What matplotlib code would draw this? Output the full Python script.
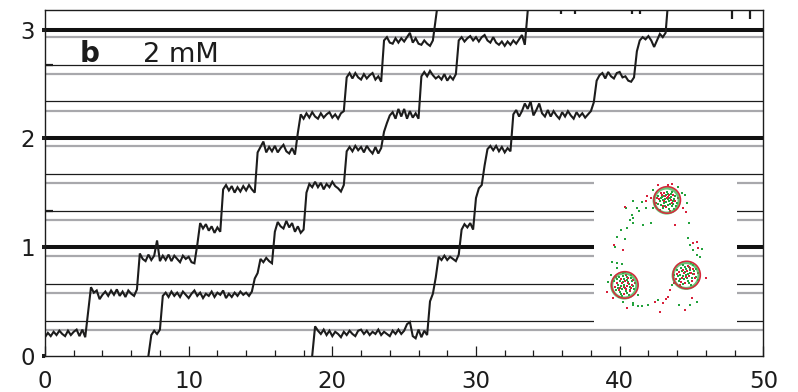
import numpy as np
import matplotlib
matplotlib.use("Agg")
import matplotlib.pyplot as plt
from matplotlib.patches import Circle, Rectangle

# Reference levels drawn across the trace panel
major_levels = [1, 2, 3]
minor_levels = [0.32, 0.66, 1.33, 1.67, 2.34, 2.67]
shadow_levels = [0.24, 0.58, 0.92, 1.25, 1.59, 1.93, 2.25, 2.59, 2.93]

x_ticks = [0, 10, 20, 30, 40, 50]
y_ticks = [0, 1, 2, 3]

# Stepping traces, sampled every 0.2 time units
dt = 0.2
start_a, start_b, start_c = 0.0, 7.2, 18.6

trace_a = [
    0.17, 0.21, 0.18, 0.22, 0.19, 0.23, 0.20, 0.18, 0.23, 0.19,
    0.22, 0.24, 0.18, 0.24, 0.17, 0.40, 0.63,
    0.58, 0.60, 0.52, 0.56, 0.59, 0.55, 0.60, 0.56, 0.61, 0.55,
    0.59, 0.54, 0.60, 0.57, 0.55, 0.61,
    0.94, 0.89, 0.87, 0.93, 0.88, 0.92, 1.06, 0.87, 0.92, 0.88,
    0.93, 0.87, 0.92, 0.89, 0.86, 0.92, 0.89, 0.91, 0.86, 0.85,
    1.02, 1.22, 1.17, 1.21, 1.15, 1.19, 1.13, 1.18, 1.14,
    1.53, 1.57, 1.52, 1.56, 1.50, 1.55, 1.51, 1.56, 1.52, 1.57, 1.53, 1.50,
    1.87, 1.92, 1.97, 1.87, 1.92, 1.88, 1.93, 1.87, 1.91, 1.94, 1.88, 1.86, 1.91, 1.85,
    2.05, 2.22, 2.18, 2.23, 2.19, 2.24, 2.20, 2.18, 2.23, 2.19,
    2.22, 2.24, 2.19, 2.22, 2.18, 2.23, 2.25,
    2.56, 2.60, 2.55, 2.60, 2.56, 2.54, 2.59, 2.55, 2.58, 2.60, 2.54, 2.57, 2.52,
    2.90, 2.93, 2.88, 2.87, 2.92, 2.88, 2.92, 2.89, 2.93, 2.97,
    2.88, 2.92, 2.87, 2.86, 2.90, 2.87, 2.85, 2.90, 3.10, 3.30,
]

trace_b = [
    0.00, 0.19, 0.23, 0.20, 0.24,
    0.55, 0.58, 0.54, 0.59, 0.55, 0.58, 0.54, 0.59, 0.56, 0.53,
    0.57, 0.60, 0.55, 0.58, 0.53, 0.57, 0.55, 0.59, 0.54, 0.58,
    0.56, 0.60, 0.53, 0.57, 0.54, 0.58, 0.55, 0.59, 0.56, 0.58, 0.55, 0.59,
    0.71, 0.76, 0.89, 0.86, 0.90, 0.87, 0.85,
    1.14, 1.23, 1.19, 1.17, 1.24, 1.18, 1.22, 1.14, 1.19, 1.13, 1.16,
    1.50, 1.58, 1.55, 1.60, 1.55, 1.59, 1.53, 1.58, 1.55, 1.60, 1.56, 1.54, 1.51, 1.57,
    1.88, 1.92, 1.88, 1.93, 1.89, 1.92, 1.87, 1.93, 1.89, 1.86, 1.92, 1.86, 1.91,
    2.06, 2.14, 2.21, 2.24, 2.18, 2.27, 2.20, 2.27, 2.18, 2.25, 2.19, 2.23, 2.18,
    2.57, 2.61, 2.57, 2.62, 2.58, 2.55, 2.57, 2.54, 2.59, 2.53, 2.57, 2.54, 2.59,
    2.90, 2.93, 2.89, 2.92, 2.94, 2.90, 2.93, 2.89, 2.93, 2.95, 2.90, 2.88,
    2.93, 2.88, 2.86, 2.89, 2.85, 2.89, 2.86, 2.90, 2.87, 2.91, 2.95, 2.86,
    3.17, 3.35,
]

trace_c = [
    0.00, 0.27,
    0.23, 0.20, 0.24, 0.19, 0.23, 0.18, 0.22, 0.20, 0.17, 0.22,
    0.19, 0.23, 0.20, 0.18, 0.23, 0.24, 0.20, 0.23, 0.19, 0.22,
    0.20, 0.24, 0.19, 0.22, 0.20, 0.18, 0.23, 0.20, 0.24, 0.20,
    0.23, 0.29, 0.31, 0.18, 0.16, 0.24, 0.17, 0.23, 0.19,
    0.50, 0.57, 0.72,
    0.91, 0.88, 0.92, 0.88, 0.91, 0.89, 0.87, 0.93,
    1.16, 1.21, 1.18, 1.22, 1.16,
    1.45, 1.54, 1.57, 1.75,
    1.90, 1.93, 1.89, 1.93, 1.88, 1.92, 1.87, 1.91, 1.88,
    2.22, 2.26, 2.20, 2.25, 2.32, 2.27, 2.34, 2.21, 2.26, 2.32,
    2.23, 2.20, 2.26, 2.20, 2.25, 2.21, 2.18, 2.24, 2.20, 2.25,
    2.21, 2.18, 2.24, 2.20, 2.23, 2.19, 2.22, 2.25,
    2.33, 2.53,
    2.58, 2.60, 2.55, 2.61, 2.57, 2.55, 2.60, 2.61, 2.56, 2.57, 2.53, 2.52, 2.56,
    2.80, 2.90,
    2.93, 2.91, 2.94, 2.90, 2.84, 2.90, 2.96, 2.93, 2.97,
    3.30,
]

# Brief excursions of off-scale traces back into the window
blip_x = [35.9, 36.9, 40.85, 41.4, 47.85, 49.1]
blip_low = [3.14, 3.14, 3.14, 3.14, 3.10, 3.10]

# Localisation inset (units: inset pixels)
spot_u = [73.3, 31.0, 92.7]
spot_v = [125.0, 40.0, 50.0]
spot_r = [13.3, 13.3, 13.7]

green_u = [39.3, 47.7, 32.0, 42.7, 45.3, 37.7, 39.3, 36.0, 38.7, 49.3, 57.0, 32.7,
           26.7, 22.7, 31.0, 21.0, 17.7, 22.7, 27.7, 95.3, 94.3, 96.0, 99.3, 102.7,
           108.3, 106.0, 39.3, 44.3, 47.7, 54.3, 64.3, 77.7, 85.3, 96.0, 102.7, 52.0,
           59.3, 84.3, 87.7, 91.0, 92.7, 58.7, 14.3, 16.7, 22.7, 29.3, 44.3, 39.3,
           68, 72, 76, 79, 70, 74, 78, 66, 81, 73, 69, 77, 83, 64, 75, 71, 80, 67,
           70, 74, 77, 72, 76, 69, 80, 74, 67, 78, 71, 82, 75, 64, 79,
           26, 30, 34, 36, 28, 32, 24, 38, 30, 27, 35, 22, 40, 33, 25, 29, 37, 20,
           29, 33, 27, 31, 35, 24, 37, 29, 26, 33, 39, 23, 31, 36, 28,
           88, 92, 96, 98, 90, 94, 86, 100, 92, 85, 97, 83, 102, 95, 89, 99, 87, 80,
           91, 94, 89, 96, 93, 87, 99, 91, 86, 95, 102, 84, 97, 89, 104]
green_v = [124.0, 123.3, 116.7, 116.7, 114.0, 110.0, 107.3, 105.0, 101.7, 100.0, 101.7, 96.7,
           95.0, 88.3, 86.0, 78.3, 62.7, 61.7, 60.7, 101.7, 87.3, 80.0, 75.0, 70.0,
           76.0, 68.3, 20.0, 19.3, 19.3, 20.0, 25.0, 40.0, 20.0, 20.0, 23.3, 116.7,
           116.7, 138.3, 131.7, 130.0, 121.7, 135.0, 43.3, 50.0, 56.7, 23.3, 30.0, 21.7,
           128, 130, 127, 124, 122, 120, 119, 124, 129, 133, 117, 131, 122, 129, 124, 126, 116, 120,
           129, 126, 128, 123, 121, 125, 126, 131, 127, 133, 119, 119, 116, 121, 121,
           44, 46, 43, 38, 36, 34, 40, 44, 40, 31, 30, 35, 36, 48, 48, 52, 50, 44,
           43, 45, 39, 37, 41, 37, 47, 49, 33, 32, 39, 46, 53, 35, 29,
           54, 56, 52, 47, 46, 44, 50, 54, 50, 44, 40, 55, 48, 58, 60, 60, 38, 50,
           53, 51, 49, 55, 47, 57, 51, 58, 46, 42, 56, 49, 62, 41, 45]

red_u = [31.0, 52.0, 29.3, 20.0, 81.0, 102.7, 99.3, 104.3, 61.0, 66.0, 69.3, 72.0,
         74.3, 76.0, 91.0, 97.7, 111.7, 12.7, 19.3, 32.7, 64.3, 74.3, 77.7, 89.3,
         92.0, 56.7, 53.3,
         65, 70, 74, 78, 72, 68, 79, 62, 84, 76, 70, 66,
         73, 67, 81, 75, 69, 77, 63, 71,
         28, 33, 26, 31, 36, 23, 30, 38, 34, 21, 25, 41, 32,
         30, 34, 27, 25, 37, 32, 22, 39,
         90, 95, 88, 93, 98, 85, 91, 100, 82, 96, 86, 104, 80,
         92, 97, 89, 94, 87, 101, 83, 99]
red_v = [118.3, 124.0, 75.0, 80.0, 100.0, 83.3, 81.7, 76.7, 23.3, 13.3, 21.7, 26.0,
         28.3, 35.0, 15.0, 26.7, 46.7, 33.3, 26.7, 16.7, 140.0, 140.0, 140.7, 116.7,
         113.3, 126.7, 129.3,
         126, 132, 128, 122, 118, 130, 130, 122, 127, 114, 124, 115,
         127, 132, 124, 130, 119, 125, 127, 129,
         42, 39, 37, 44, 34, 42, 31, 40, 47, 38, 28, 42, 36,
         38, 42, 46, 35, 37, 50, 48, 45,
         52, 49, 47, 54, 44, 53, 42, 51, 46, 57, 40, 52, 42,
         48, 52, 55, 59, 43, 47, 51, 56]

ink = "#1c1c1c"
plt.rcParams["font.family"] = ["DejaVu Sans"]

fig = plt.figure(figsize=(7.98, 3.92), dpi=100)
ax = fig.add_axes([45 / 798, 1 - 355.7 / 392, 718.3 / 798, 345.7 / 392])
ax.set_xlim(0, 50)
ax.set_ylim(0, 3.18)

for y in shadow_levels:
    ax.axhline(y, color="#a8a8ac", lw=1.6, zorder=1)
for y in minor_levels:
    ax.axhline(y, color=ink, lw=0.9, zorder=1.1)
for y in major_levels:
    ax.axhline(y, color="#111111", lw=2.9, zorder=1.2)

# Inset panel with single-molecule localisations
inset_box = [38.2, 0.283, 9.97, 1.343]
ax.add_patch(Rectangle((inset_box[0], inset_box[1]), inset_box[2], inset_box[3],
                       facecolor="white", edgecolor="none", zorder=2))
ins = ax.inset_axes(inset_box, transform=ax.transData, zorder=3)
ins.set_xlim(0, 143)
ins.set_ylim(0, 146)
ins.axis("off")
ins.scatter(green_u, green_v, marker="s", s=4, color="#22a23c", linewidths=0)
ins.scatter(red_u, red_v, marker="s", s=4, color="#d8203a", linewidths=0)
for u, v, r in zip(spot_u, spot_v, spot_r):
    ins.add_patch(Circle((u - 0.6, v - 0.6), r - 0.8, fill=False,
                         edgecolor="#38b04a", lw=2.2, alpha=0.75))
    ins.add_patch(Circle((u, v), r, fill=False, edgecolor="#d8283c", lw=1.1))

for start, ys in ((start_a, trace_a), (start_b, trace_b), (start_c, trace_c)):
    t = start + dt * np.arange(len(ys))
    ax.plot(t, ys, color=ink, lw=1.5, zorder=4, solid_joinstyle="miter")

ax.vlines(blip_x, blip_low, 3.18, color=ink, lw=1.6, zorder=4)

ax.text(2.44, 2.70, "b", fontsize=20, fontweight="bold", color=ink, va="baseline")
ax.text(6.85, 2.70, "2 mM", fontsize=19.5, color=ink, va="baseline")

ax.set_xticks(x_ticks)
ax.set_xticks(np.arange(0, 51, 2), minor=True)
ax.set_yticks(y_ticks)
ax.set_yticks([1.33, 2.67], minor=True)
ax.tick_params(axis="x", which="major", direction="in", length=7.2, width=0.9,
               pad=10.5, labelsize=16.5, colors=ink)
ax.tick_params(axis="x", which="minor", direction="in", length=4.3, width=0.9, colors=ink)
ax.tick_params(axis="y", which="major", direction="out", length=2.2, width=2.9,
               pad=5, labelsize=16.5, colors=ink)
ax.tick_params(axis="y", which="minor", direction="in", length=5.5, width=1.6, colors=ink)
for s in ax.spines.values():
    s.set_linewidth(1.0)
    s.set_color(ink)
    s.set_zorder(5)

fig.savefig("out.png", dpi=100)
